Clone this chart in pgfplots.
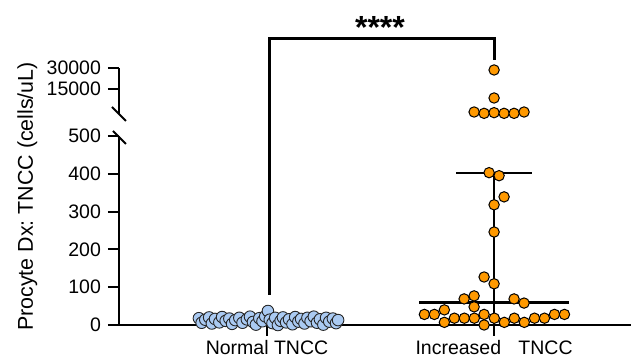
\documentclass[border=0pt]{standalone}
\usepackage{pgfplots}
\pgfplotsset{compat=1.18}
\usepackage{fontspec}
\setmainfont{Liberation Sans}
\definecolor{pblue}{RGB}{170,202,242}
\definecolor{porange}{RGB}{255,153,0}
\begin{document}
\frenchspacing
\begin{tikzpicture}
\path[use as bounding box] (0,0) rectangle (316pt,179pt);
\pgfplotsset{
 common/.style={
  scale only axis, width=256pt, clip=false, xmin=0.348, xmax=2.603,
  enlargelimits=false,
  tick style={line width=1pt, black},
  tick align=outside, major tick length=5.5pt,
  tick label style={font=\fontsize{9.75}{11}\selectfont},
  /pgf/number format/assume math mode=true,
 },
 nolinearrows/.style={
  axis line style={line width=1pt, black, -},
  x axis line style={-}, y axis line style={-},
  every outer x axis line/.append style={-},
  every outer y axis line/.append style={-},
 },
 blue pts/.style={only marks, mark=*, mark size=2.9pt, mark options={fill=pblue, draw=black!85, line width=0.45pt}},
 orange pts/.style={only marks, mark=*, mark size=2.6pt, mark options={fill=porange, draw=black, line width=0.5pt}},
}
% lower segment
\begin{axis}[common, at={(59.5pt,16.5pt)}, anchor=south west, height=94.5pt,
  axis x line=bottom, axis y line=left, tick align=outside, nolinearrows,
  ymin=0, ymax=500, ytick={0,100,200,300,400,500},
  xtick={1,2}, xticklabels={Normal TNCC, Increased\hspace{0.89em}TNCC},
  xticklabel style={yshift=1.2pt}]
\addplot[line width=1pt, black] coordinates {(2,403) (2,0)};
\addplot[line width=1pt, black] coordinates {(1.833,403) (2.167,403)};
\addplot[line width=1.5pt, black] coordinates {(1.670,60) (2.330,60)};
\addplot[blue pts] table {
x y
0.700 18
0.712 6
0.728 14
0.745 20
0.757 4
0.771 16
0.790 7
0.802 21
0.818 11
0.834 17
0.846 3
0.860 13
0.878 19
0.892 6
0.911 15
0.925 22
0.938 8
0.951 1
0.966 18
0.980 10
0.992 23
1.004 37
1.012 14
1.024 5
1.036 19
1.048 0
1.060 11
1.070 20
1.084 7
1.097 15
1.112 2
1.124 21
1.138 9
1.150 16
1.165 4
1.178 19
1.192 10
1.206 22
1.220 6
1.233 15
1.248 1
1.260 19
1.274 9
1.290 17
1.304 5
1.313 13
};
\addplot[orange pts] table {
x y
1.693 28
1.737 28
1.781 40
1.781 7
1.825 18
1.869 18
1.913 18
1.956 28
1.956 0
2.001 18
2.045 7
2.089 18
2.133 7
2.178 18
2.222 18
2.266 28
2.310 28
1.868 69
1.912 77
1.912 48
2.088 69
2.132 58
1.956 127
2.000 109
2.000 246
2.000 318
2.044 339
1.978 403
2.022 395
};
\end{axis}
% upper segment
\begin{axis}[common, at={(59.5pt,122pt)}, anchor=south west, height=23pt,
  axis x line=none, axis y line=left, tick align=outside, nolinearrows,
  ymode=log, ymin=6575, ymax=30000,
  ytick={15000,30000}, yticklabels={15000,30000}, minor ytick={}]
\addplot[orange pts] table {
x y
1.912 7020
1.956 6720
2.000 6870
2.044 6720
2.088 6720
2.132 7020
2.000 11150
2.000 28100
};
\end{axis}
% axis break marks
\draw[line width=1pt] (56pt,125.5pt) -- (63pt,118.5pt);
\draw[line width=1pt] (56.5pt,113.5pt) -- (63pt,107pt);
% significance bracket
\draw[line width=1.5pt] (134.5pt,31.5pt) -- (134.5pt,159.5pt) -- (247pt,159.5pt) -- (247pt,149pt);
\node[font=\fontsize{16}{18}\selectfont\bfseries, anchor=base, inner sep=0pt] at (190pt,159.5pt) {****};
% y label
\node[rotate=90, font=\fontsize{10.7}{12}\selectfont] at (13.7pt,80.75pt) {Procyte Dx: TNCC (cells/uL)};
\end{tikzpicture}
\end{document}
